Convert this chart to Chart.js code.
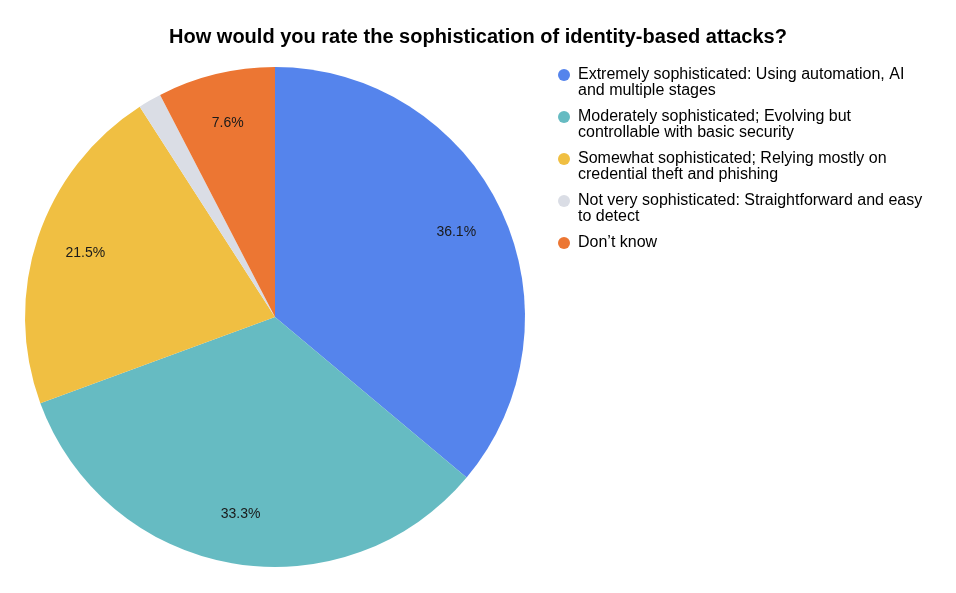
<!DOCTYPE html>
<html>
<head>
<meta charset="utf-8">
<script src="https://cdn.jsdelivr.net/npm/chart.js@4.4.1/dist/chart.umd.min.js"></script>
<style>
html,body{margin:0;padding:0;background:#fff;}
#wrap{position:relative;width:956px;height:593px;}
</style>
</head>
<body>
<div id="wrap"><canvas id="c" width="956" height="593"></canvas></div>
<script>
const titleText = "How would you rate the sophistication of identity-based attacks?";
const categories = [
  "Extremely sophisticated: Using automation, AI and multiple stages",
  "Moderately sophisticated; Evolving but controllable with basic security",
  "Somewhat sophisticated; Relying mostly on credential theft and phishing",
  "Not very sophisticated: Straightforward and easy to detect",
  "Don\u2019t know"
];
const values = [36.1, 33.3, 21.5, 1.5, 7.6];
const colors = ["#5584EC", "#66BBC2", "#F0BF42", "#DADDE5", "#EC7633"];

const FONT = '"Liberation Sans", Arial, Helvetica, sans-serif';

function wrap(ctx, text, maxW) {
  const words = text.split(' ');
  const lines = [];
  let cur = '';
  for (const w of words) {
    const t = cur ? cur + ' ' + w : w;
    if (ctx.measureText(t).width > maxW && cur) { lines.push(cur); cur = w; }
    else cur = t;
  }
  if (cur) lines.push(cur);
  return lines;
}

const decor = {
  id: 'decor',
  afterDatasetsDraw(chart) {
    const ctx = chart.ctx;
    const meta = chart.getDatasetMeta(0);
    const total = values.reduce((a, b) => a + b, 0);
    ctx.save();
    // slice labels
    ctx.font = '14px ' + FONT;
    ctx.fillStyle = '#1a1a1a';
    ctx.textAlign = 'center';
    ctx.textBaseline = 'middle';
    meta.data.forEach((arc, i) => {
      const v = values[i];
      if (v / total < 0.05) return;
      const p = arc.getProps(['x', 'y', 'startAngle', 'endAngle', 'outerRadius'], true);
      const mid = (p.startAngle + p.endAngle) / 2;
      const r = p.outerRadius * 0.8;
      ctx.fillText(v.toFixed(1) + '%', p.x + Math.cos(mid) * r, p.y + Math.sin(mid) * r);
    });
    // title
    ctx.font = 'bold 20px ' + FONT;
    ctx.fillStyle = '#000';
    ctx.fillText(titleText, 478, 37);
    // legend
    ctx.font = '16px ' + FONT;
    ctx.textAlign = 'left';
    let y = 75;
    categories.forEach((lab, i) => {
      ctx.fillStyle = colors[i];
      ctx.beginPath();
      ctx.arc(564, y, 6, 0, Math.PI * 2);
      ctx.fill();
      ctx.fillStyle = '#000';
      const lines = wrap(ctx, lab, 352);
      lines.forEach((ln, j) => ctx.fillText(ln, 578, y + j * 16));
      y += 42;
    });
    ctx.restore();
  }
};

new Chart(document.getElementById('c'), {
  type: 'pie',
  data: {
    labels: categories,
    datasets: [{
      data: values,
      backgroundColor: colors,
      borderWidth: 0
    }]
  },
  options: {
    responsive: false,
    animation: false,
    layout: { padding: { left: 25, right: 431, top: 67, bottom: 26 } },
    plugins: {
      legend: { display: false },
      title: { display: false },
      tooltip: { enabled: false }
    }
  },
  plugins: [decor]
});
</script>
</body>
</html>
